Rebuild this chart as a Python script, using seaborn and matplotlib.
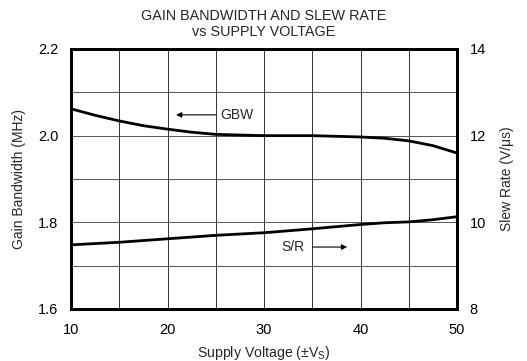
import matplotlib
matplotlib.use('Agg')
import matplotlib.pyplot as plt
import seaborn as sns
import pandas as pd

# data
supply_v = [10, 12.5, 15, 17.5, 20, 22.5, 25, 30, 35, 40, 42.5, 45, 47.5, 50]
gbw_mhz = [2.062, 2.047, 2.034, 2.023, 2.015, 2.008, 2.003, 2.000, 2.000, 1.997, 1.994, 1.988, 1.977, 1.960]
slew_vus = [9.48, 9.51, 9.54, 9.58, 9.62, 9.66, 9.70, 9.76, 9.85, 9.95, 9.99, 10.01, 10.06, 10.13]

x_ticks = [10, 20, 30, 40, 50]
left_ticks = [1.6, 1.8, 2.0, 2.2]
right_ticks = [8, 10, 12, 14]

df = pd.DataFrame({'vs': supply_v, 'gbw': gbw_mhz, 'sr': slew_vus})

sns.set_style('white')
plt.rcParams['font.family'] = ['Liberation Sans', 'DejaVu Sans']
plt.rcParams['mathtext.fontset'] = 'custom'
plt.rcParams['mathtext.rm'] = 'Liberation Sans'

fig = plt.figure(figsize=(5.27, 3.61), dpi=100)
ax = fig.add_axes([71 / 527, 1 - 309 / 361, 386 / 527, 260 / 361])
ax2 = ax.twinx()

# grid
for v in range(10, 51, 5):
    ax.axvline(v, color='#333333', lw=0.7, zorder=0)
for v in [1.7, 1.8, 1.9, 2.0, 2.1]:
    ax.axhline(v, color='#555555', lw=0.7, zorder=0)

sns.lineplot(data=df, x='vs', y='gbw', ax=ax, color='black', lw=2)
sns.lineplot(data=df, x='vs', y='sr', ax=ax2, color='black', lw=2)

ax.set_xlim(10, 50)
ax.set_ylim(1.6, 2.2)
ax2.set_ylim(8, 14)
ax.set_xticks(x_ticks)
ax.set_yticks(left_ticks)
ax.set_yticklabels([f'{t:.1f}' for t in left_ticks])
ax2.set_yticks(right_ticks)

for a in (ax, ax2):
    for s in a.spines.values():
        s.set_linewidth(2)
        s.set_color('black')
    a.tick_params(length=0, labelsize=10.5, colors='black')
ax.tick_params(axis='x', pad=10)
ax.tick_params(axis='y', pad=9)
ax2.tick_params(axis='y', pad=9)

ax.set_xlabel(r'Supply Voltage ($\pm$V$_\mathrm{S}$)', fontsize=10.2, labelpad=5)
ax.set_ylabel('Gain Bandwidth (MHz)', fontsize=10, labelpad=9)
ax2.set_ylabel('Slew Rate (V/\u03bcs)', fontsize=10, labelpad=10)
ax.set_title('GAIN BANDWIDTH AND SLEW RATE\nvs SUPPLY VOLTAGE', fontsize=10.4, pad=9, linespacing=1.25)

ax.annotate('', xy=(20.6, 2.048), xytext=(25.3, 2.048),
            arrowprops=dict(arrowstyle='-|>', color='black', lw=0.8, mutation_scale=8))
ax.text(25.5, 2.048, 'GBW', fontsize=10, va='center', ha='left')
ax.annotate('', xy=(38.9, 1.743), xytext=(34.8, 1.743),
            arrowprops=dict(arrowstyle='-|>', color='black', lw=0.8, mutation_scale=8))
ax.text(34.2, 1.743, 'S/R', fontsize=10, va='center', ha='right')

fig.savefig('out.png', dpi=100)
